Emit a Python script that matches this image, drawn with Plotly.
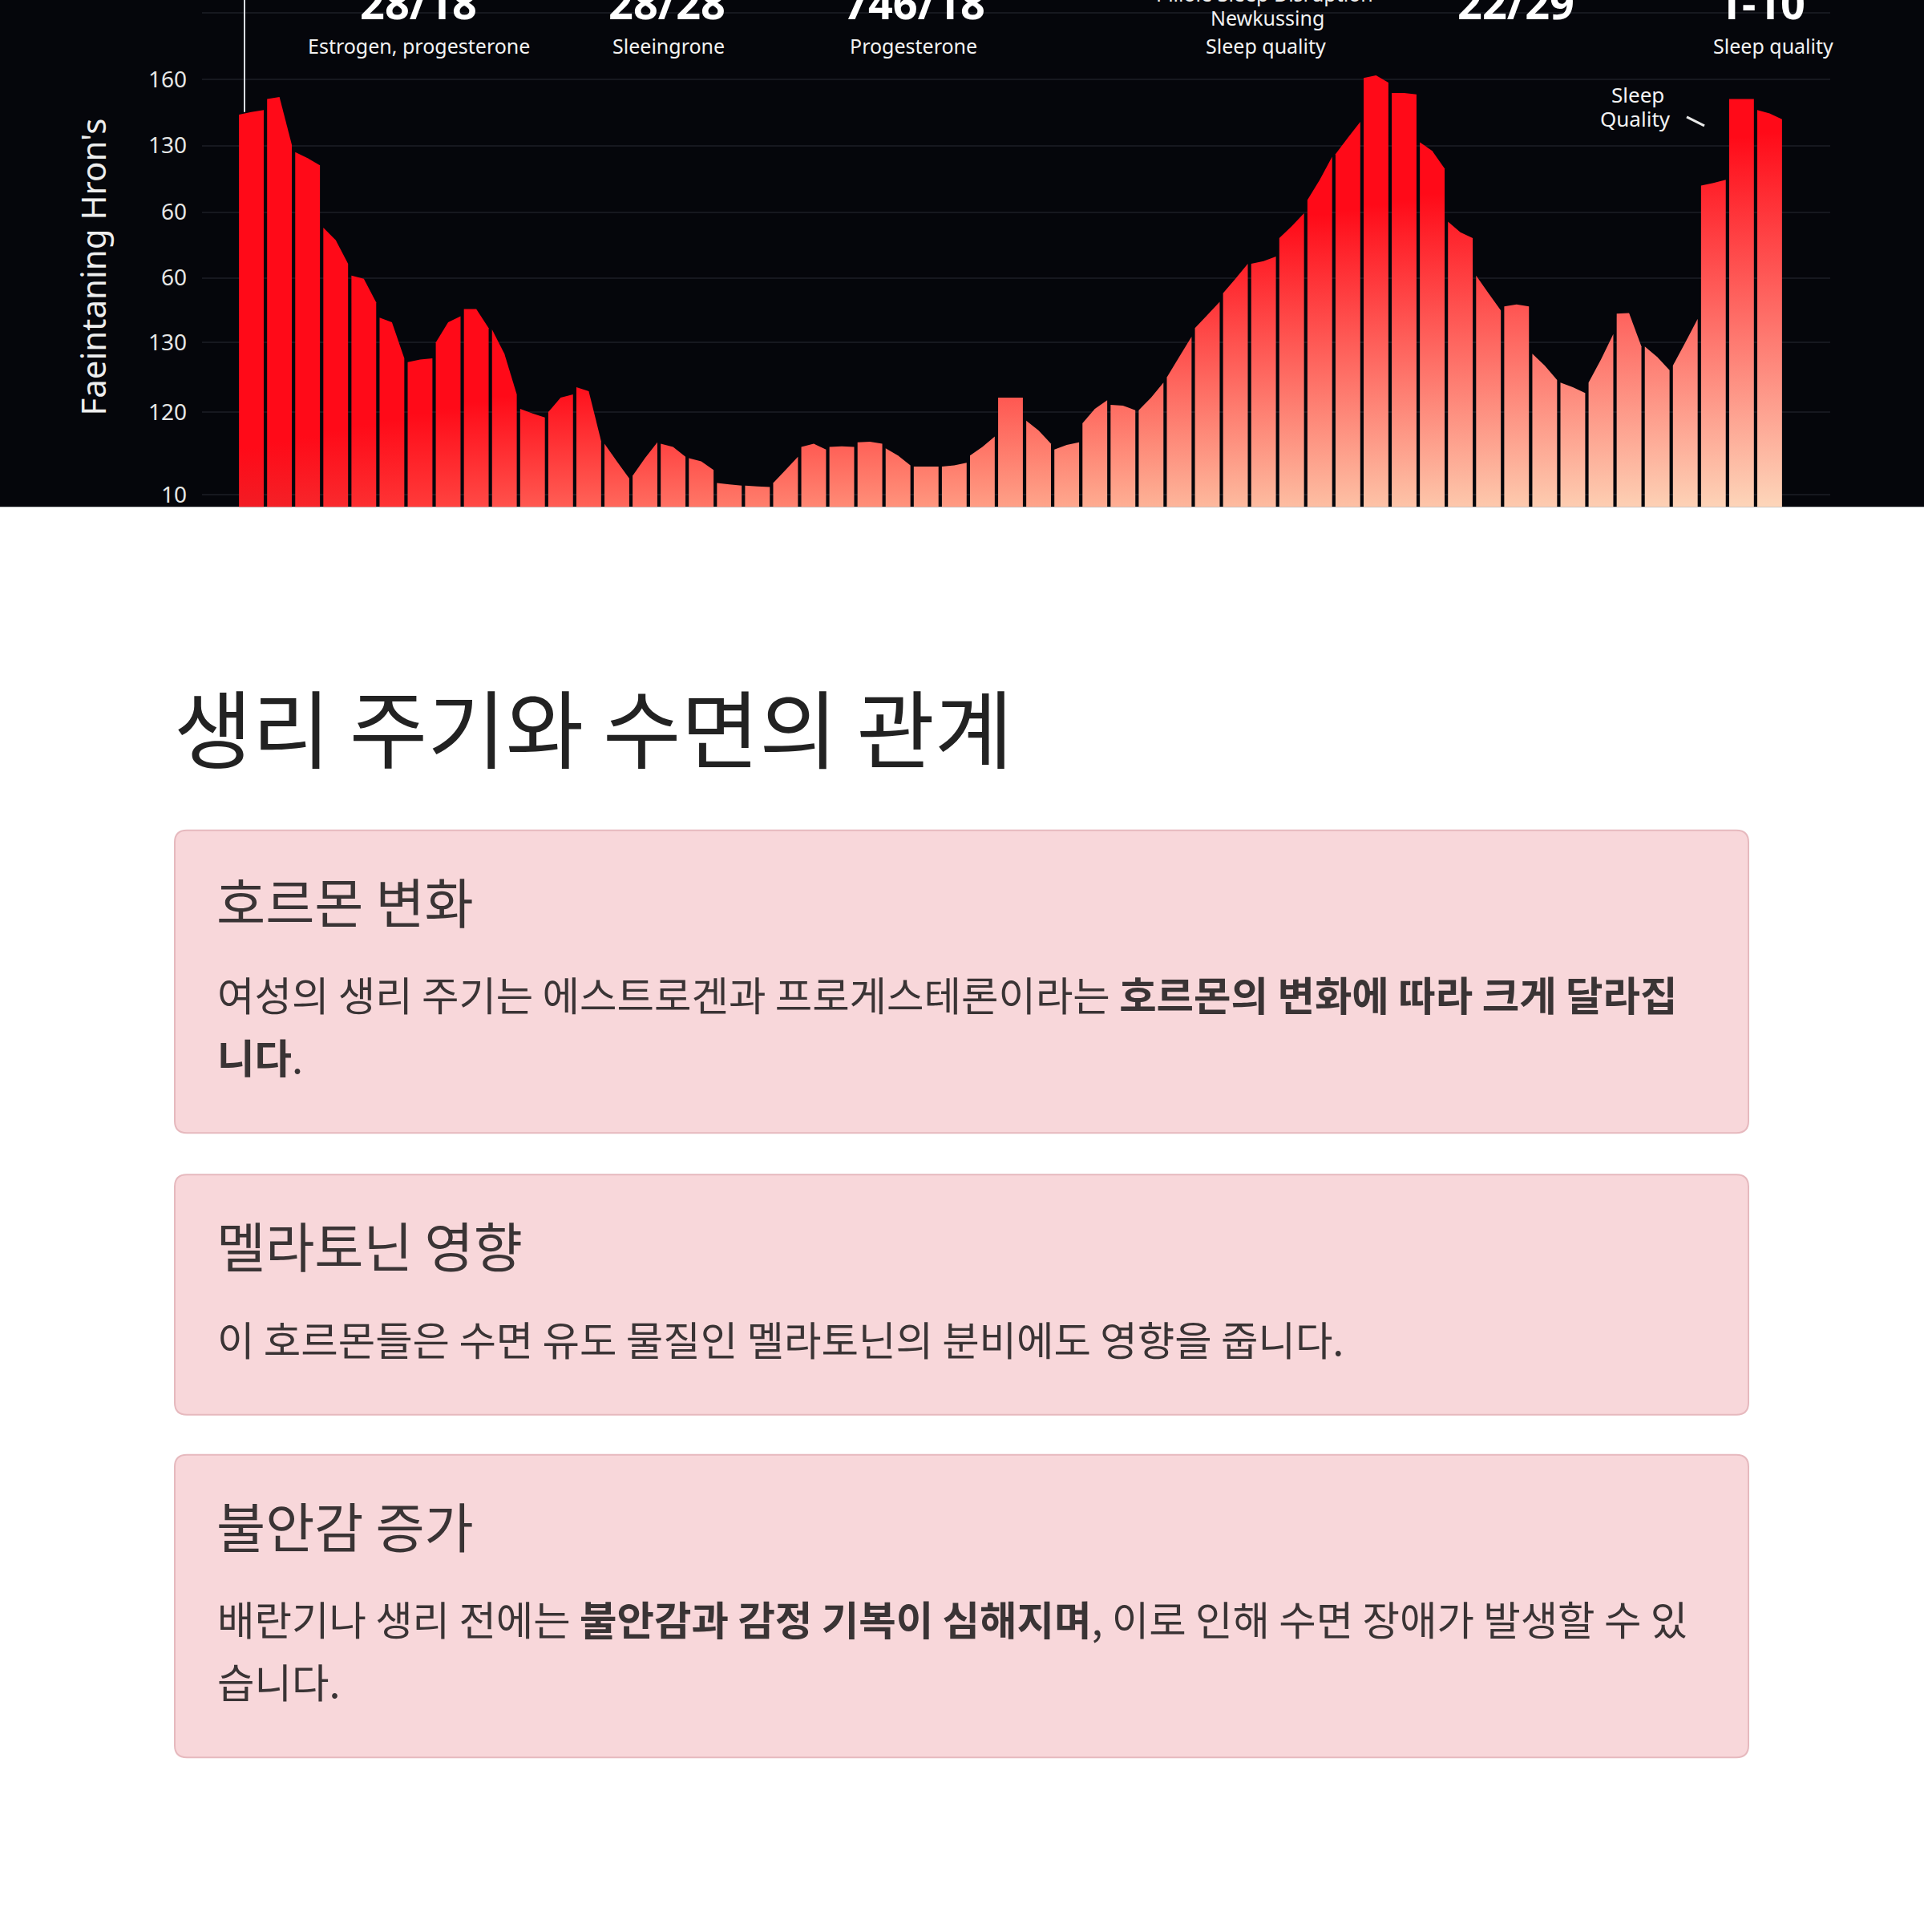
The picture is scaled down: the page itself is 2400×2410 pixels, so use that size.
import plotly.graph_objects as go

# ---------------- data ----------------
bar_top_start = [64.6, 67.0, 58.9, 47.4, 40.1, 33.7, 26.9, 29.9, 35.0, 31.9,
                 19.8, 19.3, 23.1, 14.5, 9.6, 14.5, 12.3, 8.5, 8.1, 8.5,
                 14.0, 14.0, 14.7, 13.8, 11.0, 11.0, 12.7, 21.5, 18.0, 13.6,
                 17.6, 20.4, 19.6, 24.6, 32.1, 37.4, 41.9, 45.8, 51.6, 58.6,
                 70.2, 67.9, 60.4, 48.3, 40.1, 35.4, 28.2, 23.8, 23.8, 34.3,
                 29.3, 26.4, 53.8, 67.0, 65.3]
bar_top_mid = [65.0, 67.3, 58.0, 45.5, 39.6, 33.0, 27.3, 33.0, 35.0, 28.2,
               19.1, 21.5, 22.5, 11.8, 12.3, 14.0, 11.8, 8.3, 8.0, 10.5,
               14.5, 14.1, 14.8, 12.7, 11.0, 11.2, 14.0, 21.5, 16.5, 14.3,
               19.8, 20.3, 21.5, 27.7, 34.1, 39.6, 42.3, 47.6, 54.7, 61.1,
               70.6, 67.9, 59.1, 46.7, 37.4, 35.7, 26.4, 23.1, 27.3, 34.4,
               27.7, 29.9, 54.2, 67.0, 64.8]
bar_top_end = [65.3, 60.0, 56.9, 41.9, 36.0, 27.5, 27.5, 33.9, 32.1, 22.0,
               18.5, 22.0, 14.9, 9.2, 14.7, 12.5, 10.5, 8.1, 7.9, 12.5,
               13.6, 14.0, 14.5, 11.2, 11.0, 11.6, 15.6, 21.5, 14.5, 14.7,
               21.1, 19.6, 23.8, 30.8, 36.1, 41.9, 43.0, 49.6, 58.2, 63.5,
               69.5, 67.7, 56.4, 45.8, 34.8, 35.4, 24.2, 22.2, 31.2, 29.3,
               25.7, 33.5, 54.7, 67.0, 63.9]

ytick_vals = [80.06, 70.0, 59.9, 49.76, 39.76, 29.9, 19.27, 6.7]
ytick_text = ["50", "160", "130", "60", "60", "130", "120", "10"]
y_axis_title = "Faeintaning Hron's"

header_values = ["28/18", "28/28", "746/18", "22/29", "1-10"]
header_labels = ["Estrogen, progesterone", "Sleeingrone", "Progesterone",
                 "Sleep quality", "Sleep quality"]
header_extra = ["Pillole Sleep Disruption", "Newkussing"]
side_note = ["Sleep", "Quality"]

page_title = "생리 주기와 수면의 관계"
card_headings = ["호르몬 변화", "멜라토닌 영향", "불안감 증가"]
card_lines = [
    ["여성의 생리 주기는 에스트로겐과 프로게스테론이라는 <b>호르몬의 변화에 따라 크게 달라집</b>",
     "<b>니다</b>."],
    ["이 호르몬들은 수면 유도 물질인 멜라토닌의 분비에도 영향을 줍니다."],
    ["배란기나 생리 전에는 <b>불안감과 감정 기복이 심해지며</b>, 이로 인해 수면 장애가 발생할 수 있",
     "습니다."],
]

# ---------------- layout helpers ----------------
W, H = 2400, 2410
DARK_BOTTOM = 633


def px(x):
    return x / W


def py(y):
    return 1 - y / H


def hex2rgb(h):
    h = h.lstrip('#')
    return tuple(int(h[i:i + 2], 16) for i in (0, 2, 4))


def lerp_anchor(anchors, f):
    for (f0, c0), (f1, c1) in zip(anchors[:-1], anchors[1:]):
        if f <= f1:
            t = 0 if f1 == f0 else (f - f0) / (f1 - f0)
            if isinstance(c0, str):
                a, b = hex2rgb(c0), hex2rgb(c1)
                r = [round(a[k] + (b[k] - a[k]) * t) for k in range(3)]
                return 'rgb(%d,%d,%d)' % tuple(r)
            return c0 + (c1 - c0) * t
    return anchors[-1][1]


bottom_anchors = [(0.0, '#f21c24'), (0.1, '#ff3636'), (0.18, '#ff5850'),
                  (0.3, '#ff7868'), (0.45, '#ff9880'), (0.62, '#fdb89c'),
                  (0.8, '#fdc8ac'), (1.0, '#fdd6ba')]
red_height_anchors = [(0.0, 14.0), (0.3, 28.0), (0.6, 45.0), (1.0, 62.0)]
TOP_RED = '#ff0a18'

# y scale: 8.2 px per unit, value 70 at 99 px from the top
Y_MAX = 70 + 99 / 8.2
Y_MIN = 70 - (DARK_BOTTOM - 99) / 8.2
GAP = 0.06

fig = go.Figure()
n = len(bar_top_start)
for i in range(n):
    f = i / (n - 1)
    left, right = i - 0.5 + GAP, i + 0.5 - GAP
    fig.add_trace(go.Scatter(
        x=[left, left, i, right, right, left],
        y=[0, bar_top_start[i], bar_top_mid[i], bar_top_end[i], 0, 0],
        mode='lines', fill='toself', line=dict(width=0),
        fillgradient=dict(type='vertical', start=Y_MIN,
                          stop=lerp_anchor(red_height_anchors, f),
                          colorscale=[[0, lerp_anchor(bottom_anchors, f)], [1, TOP_RED]]),
        hoverinfo='skip', showlegend=False))

shapes = []
# dark image background
shapes.append(dict(type='rect', xref='paper', yref='paper', x0=0, x1=1,
                   y0=py(DARK_BOTTOM), y1=1, fillcolor='#05060b',
                   line=dict(width=0), layer='below'))
# thin white marker line
shapes.append(dict(type='line', xref='paper', yref='paper', x0=px(305), x1=px(305),
                   y0=py(140), y1=1, line=dict(color='#d8dbe0', width=2)))
# hook mark next to the side note
shapes.append(dict(type='line', xref='paper', yref='paper', x0=px(2104), x1=px(2126),
                   y0=py(146), y1=py(157), line=dict(color='#e8e8e8', width=3)))


def rounded_rect(x0, y0, x1, y1, r):
    rx, ry = r / W, r / H
    X0, X1, Y0, Y1 = px(x0), px(x1), py(y0), py(y1)
    return (f"M {X0 + rx} {Y0} L {X1 - rx} {Y0} Q {X1} {Y0} {X1} {Y0 - ry} "
            f"L {X1} {Y1 + ry} Q {X1} {Y1} {X1 - rx} {Y1} "
            f"L {X0 + rx} {Y1} Q {X0} {Y1} {X0} {Y1 + ry} "
            f"L {X0} {Y0 - ry} Q {X0} {Y0} {X0 + rx} {Y0} Z")


card_boxes = [(1037, 1415), (1467, 1767), (1817, 2195)]
for (t, b) in card_boxes:
    shapes.append(dict(type='path', xref='paper', yref='paper',
                       path=rounded_rect(218, t, 2181, b, 15),
                       fillcolor='#f8d7da', line=dict(color='#e6b9be', width=2),
                       layer='below'))

ann = []
LAT = 'Noto Sans'
KR = 'Noto Sans CJK KR'


def add_text(text, x, y, size, color, family, xanchor='center', bold=False, angle=0):
    ann.append(dict(text=text, x=px(x), y=py(y), xref='paper', yref='paper',
                    xanchor=xanchor, yanchor='middle', showarrow=False,
                    textangle=angle,
                    font=dict(family=family, size=size, color=color,
                              weight='bold' if bold else 'normal')))


hv_x = [522, 832, 1140, 1891, 2197]
for v, x in zip(header_values, hv_x):
    add_text(v, x, 3, 54, '#ffffff', LAT, bold=True)
hl_x = [522, 834, 1139, 1579, 2212]
for t, x in zip(header_labels, hl_x):
    add_text(t, x, 57, 25, '#f2f2f2', LAT)
add_text(header_extra[0], 1577, -8, 25, '#f2f2f2', LAT)
add_text(header_extra[1], 1581, 22, 25, '#f2f2f2', LAT)
add_text(side_note[0], 2043, 118, 26, '#f2f2f2', LAT)
add_text(side_note[1], 2040, 148, 26, '#f2f2f2', LAT)
add_text(y_axis_title, 116, 334, 42, '#eeeeee', LAT, angle=-90)

# page text
add_text(page_title, 215, 905, 106, '#222222', KR, xanchor='left')
heading_y = [1124, 1554, 1904]
for k, (hd, lines) in enumerate(zip(card_headings, card_lines)):
    add_text(hd, 268, heading_y[k], 66.5, '#3a3435', KR, xanchor='left')
    for j, line in enumerate(lines):
        add_text(line, 269, heading_y[k] + 117 + 78 * j, 50.5, '#3a3435', KR, xanchor='left')

fig.update_layout(
    width=W, height=H, autosize=False,
    margin=dict(l=0, r=0, t=0, b=0),
    paper_bgcolor='white', plot_bgcolor='rgba(0,0,0,0)',
    showlegend=False,
    xaxis=dict(domain=[px(252), px(2283)], range=[-1.7545, 56.154], visible=False),
    yaxis=dict(domain=[py(DARK_BOTTOM), 1], range=[Y_MIN, Y_MAX],
               tickvals=ytick_vals, ticktext=ytick_text,
               showgrid=True, gridcolor='#16181f', gridwidth=2,
               zeroline=False, showline=False, ticks='',
               ticklabelstandoff=18,
               tickfont=dict(family=LAT, size=28, color='#e6e6e6')),
    shapes=shapes, annotations=ann,
)

fig.write_html("out.html",
               config={'displayModeBar': False},
               post_script="document.body.style.margin='0';document.body.style.overflow='hidden';")
